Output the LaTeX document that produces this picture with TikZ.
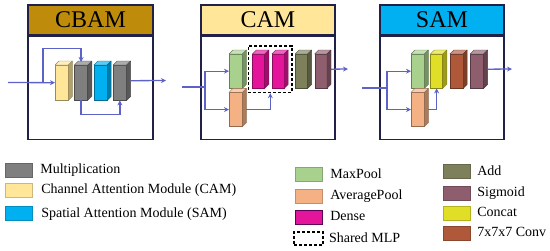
\documentclass[tikz,border=0pt]{standalone}
\usepackage{fontspec}
\setmainfont{Liberation Serif}
\usetikzlibrary{positioning, arrows.meta, fit}

\definecolor{mulgray}{RGB}{127,127,127}
\definecolor{camyellow}{RGB}{255,230,153}
\definecolor{samblue}{RGB}{0,176,240}
\definecolor{poolgreen}{RGB}{169,209,142}
\definecolor{poolorange}{RGB}{244,177,131}
\definecolor{densepink}{RGB}{228,20,155}
\definecolor{addolive}{RGB}{126,128,92}
\definecolor{sigmauve}{RGB}{142,94,110}
\definecolor{catyellow}{RGB}{225,222,40}
\definecolor{convbrown}{RGB}{176,88,58}
\definecolor{cbamgold}{RGB}{190,140,10}
\definecolor{framenavy}{RGB}{32,32,72}
\definecolor{flowblue}{RGB}{92,98,200}

% top and side faces of a block node
\newcommand{\blockfaces}[2]{%
  \filldraw[fill=#2!65!white, draw=#2!60!black, line width=0.4pt, line join=round]
    (#1.north west) -- ++(4,-4) -- ([shift={(4,-4)}]#1.north east) -- (#1.north east) -- cycle;
  \filldraw[fill=#2!70!black, draw=#2!60!black, line width=0.4pt, line join=round]
    (#1.north east) -- ++(4,-4) -- ([shift={(4,-4)}]#1.south east) -- (#1.south east) -- cycle;}

\begin{document}
\begin{tikzpicture}[x=1pt, y=-1pt, node distance=6pt,
    boxline/.style={draw=framenavy, line width=1.3pt, inner sep=0pt},
    titlebar/.style={boxline, minimum height=30pt, font=\fontsize{24}{24}\selectfont},
    panel/.style={boxline, minimum height=103pt},
    blk/.style={draw=#1!60!black, fill=#1, line width=0.4pt, inner sep=0pt, minimum width=13pt, minimum height=34pt},
    flow/.style={draw=flowblue, line width=1.3pt, >={Stealth[length=5pt, width=5pt]}},
    swatch/.style={fill=#1, draw=#1!80!black, line width=0.3pt, inner sep=0pt, minimum width=27pt, minimum height=14pt},
    lbl/.style={inner sep=0pt, anchor=west, font=\fontsize{14}{16}\selectfont, text height=10pt, text depth=3pt},
    mlp/.style={draw=black, line width=1.6pt, dash pattern=on 3pt off 2pt, inner sep=4pt}]
    \useasboundingbox (0,0) rectangle (550,250);

    \node[titlebar, fill=cbamgold, minimum width=125pt] (cbamtitle) at (90.5,20) {CBAM};
    \node[panel, minimum width=125pt, below=0pt of cbamtitle] (cbambody) {};
    \node[titlebar, fill=camyellow, minimum width=134pt] (camtitle) at (268,20) {CAM};
    \node[panel, minimum width=134pt, below=0pt of camtitle] (cambody) {};
    \node[titlebar, fill=samblue, minimum width=124pt] (samtitle) at (442,20) {SAM};
    \node[panel, minimum width=124pt, below=0pt of samtitle] (sambody) {};

    % CBAM
    \node[blk=camyellow, minimum height=35pt, anchor=north west] (cbcam) at (55,65) {};
    \node[blk=mulgray, minimum height=35pt, right=of cbcam] (cbmul1) {};
    \node[blk=samblue, minimum height=35pt, right=of cbmul1] (cbsam) {};
    \node[blk=mulgray, minimum height=35pt, right=of cbsam] (cbmul2) {};
    \foreach \n/\col in {cbcam/camyellow, cbmul1/mulgray, cbsam/samblue, cbmul2/mulgray}
        \blockfaces{\n}{\col};

    \coordinate (cbin) at (8,82.5);
    \coordinate (cbbr) at (43,82.5);
    \coordinate (cbout) at (166,80.5);
    \draw[flow, ->] (cbin) -- (cbcam.west);
    \draw[flow, ->] (cbbr) -- ++(0,-34) -| ([yshift=3pt]cbmul1.north);
    \draw[flow, ->] (cbmul1.south) -- ++(0,14) -| (cbmul2.south);
    \draw[flow, ->] ([shift={(4,-2)}]cbmul2.east) -- (cbout);

    % CAM
    \node[blk=poolgreen, anchor=north west] (cammax) at (229,54) {};
    \node[blk=poolorange, below=4pt of cammax] (camavg) {};
    \node[blk=densepink, minimum width=12pt, right=10pt of cammax] (camd1) {};
    \node[blk=densepink, minimum width=12pt, right=7pt of camd1] (camd2) {};
    \node[blk=addolive, minimum width=12pt, right=11pt of camd2] (camadd) {};
    \node[blk=sigmauve, minimum width=12pt, right=7pt of camadd] (camsig) {};
    \foreach \n/\col in {cammax/poolgreen, camavg/poolorange, camd1/densepink, camd2/densepink, camadd/addolive, camsig/sigmauve}
        \blockfaces{\n}{\col};
    \coordinate (camtop) at ([shift={(4,-4)}]camd2.north east);
    \node[mlp, fit=(camd1.north west)(camd2.south east)(camtop)] (cammlp) {};

    \coordinate (camin) at (182,87);
    \coordinate (cambr) at (205,87);
    \coordinate (camout) at (348,69);
    \draw[flow] (camin) -- (cambr);
    \draw[flow, ->] (cambr) |- (cammax.west);
    \draw[flow, ->] (cambr) |- (camavg.west);
    \draw[flow, ->] ([xshift=4pt]camavg.east) -| (cammlp.south);
    \draw[flow, ->] ([shift={(4,-2)}]camsig.east) -- (camout);

    % SAM
    \node[blk=poolgreen, anchor=north west] (sammax) at (411,54) {};
    \node[blk=poolorange, below=4pt of sammax] (samavg) {};
    \node[blk=catyellow, minimum width=12pt, right=of sammax] (samcat) {};
    \node[blk=convbrown, right=7pt of samcat] (samconv) {};
    \node[blk=sigmauve, right=7pt of samconv] (samsig) {};
    \foreach \n/\col in {sammax/poolgreen, samavg/poolorange, samcat/catyellow, samconv/convbrown, samsig/sigmauve}
        \blockfaces{\n}{\col};

    \coordinate (samin) at (362,88);
    \coordinate (sambr) at (387,88);
    \coordinate (samout) at (512,69);
    \draw[flow] (samin) -- (sambr);
    \draw[flow, ->] (sambr) |- (sammax.west);
    \draw[flow, ->] (sambr) |- (samavg.west);
    \draw[flow, ->] ([xshift=4pt]samavg.east) -| (samcat.south);
    \draw[flow, ->] ([shift={(4,-2)}]samsig.east) -- (samout);

    % legend
    \node[swatch=mulgray] (kmul) at (18.5,170) {};
    \node[swatch=camyellow, below=6pt of kmul] (kcam) {};
    \node[swatch=samblue, below=9pt of kcam] (ksam) {};
    \node[lbl, right=8pt of kmul] (tmul) {Multiplication};
    \node[lbl, right=9pt of kcam] (tcam) {Channel Attention Module (CAM)};
    \node[lbl, right=9pt of ksam] (tsam) {Spatial Attention Module (SAM)};

    \node[swatch=poolgreen] (kmax) at (308.5,174.5) {};
    \node[swatch=poolorange, below=7pt of kmax] (kavg) {};
    \node[swatch=densepink, draw=violet!70!black, below=7pt of kavg] (kdense) {};
    \node[mlp, inner sep=0pt, minimum width=29pt, minimum height=13pt, below=7pt of kdense] (kmlp) {};
    \node[lbl, right=8pt of kmax] (tmax) {MaxPool};
    \node[lbl, right=8pt of kavg] (tavg) {AveragePool};
    \node[lbl, right=8pt of kdense] (tdense) {Dense};
    \node[lbl, right=5pt of kmlp] (tmlp) {Shared MLP};

    \node[swatch=addolive] (kadd) at (456.5,171.5) {};
    \node[swatch=sigmauve, below=7pt of kadd] (ksig) {};
    \node[swatch=catyellow, below=6pt of ksig] (kcat) {};
    \node[swatch=convbrown, below=6pt of kcat] (kconv) {};
    \node[lbl, right=7pt of kadd] (tadd) {Add};
    \node[lbl, right=7pt of ksig] (tsig) {Sigmoid};
    \node[lbl, right=7pt of kcat] (tcat) {Concat};
    \node[lbl, right=7pt of kconv] (tconv) {7x7x7 Conv};
\end{tikzpicture}
\end{document}
